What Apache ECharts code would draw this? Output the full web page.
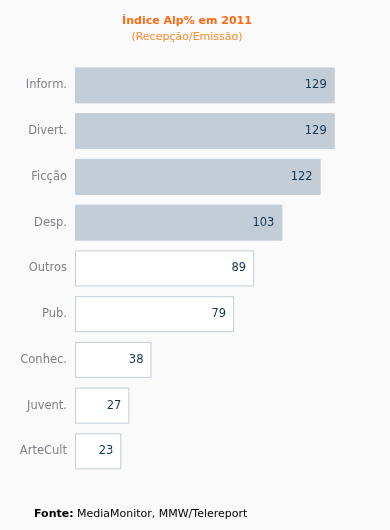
<!DOCTYPE html>
<html><head><meta charset="utf-8">
<script src="https://cdn.jsdelivr.net/npm/echarts@6/dist/echarts.min.js"></script>
<style>html,body{margin:0;padding:0;background:#fafafa}#c{width:390px;height:530px}</style>
</head><body><div id="c"></div>
<script>
const categories = ['Inform.', 'Divert.', 'Ficção', 'Desp.', 'Outros', 'Pub.', 'Conhec.', 'Juvent.', 'ArteCult'];
const values = [129, 129, 122, 103, 89, 79, 38, 27, 23];
const titleText = 'Índice Alp% em 2011';
const subtitleText = '(Recepção/Emissão)';
const sourceLabel = 'Fonte:';
const sourceText = 'MediaMonitor, MMW/Telereport';
const shadedCount = 4;

const font = 'DejaVu Sans';
const chart = echarts.init(document.getElementById('c'), null, {renderer: 'canvas'});
chart.setOption({
  backgroundColor: '#fafafa',
  animation: false,
  grid: {left: 75, top: 62.5, width: 302, height: 411.75},
  xAxis: {type: 'value', min: 0, max: 150, show: false},
  yAxis: {
    type: 'category', data: categories, inverse: true,
    axisLine: {show: false}, axisTick: {show: false},
    axisLabel: {color: '#857d88', fontFamily: font, fontSize: 11.5, margin: 8}
  },
  series: [{
    type: 'bar', data: values, barWidth: 36,
    itemStyle: {
      color: p => p.dataIndex < shadedCount ? '#c2cdd7' : '#ffffff',
      borderColor: '#c2cdd7', borderWidth: 1
    },
    label: {show: true, position: 'insideRight', distance: 8, color: '#153555', fontFamily: font, fontSize: 11.5}
  }],
  graphic: [
    {type: 'text', x: 187, y: 21, style: {text: titleText, fill: '#ff6a13', font: 'bold 11px "DejaVu Sans"', align: 'center', verticalAlign: 'middle'}},
    {type: 'text', x: 187, y: 37, style: {text: subtitleText, fill: '#ff8a2a', font: '11px "DejaVu Sans"', align: 'center', verticalAlign: 'middle'}},
    {type: 'text', x: 34, y: 514, style: {
      text: '{b|' + sourceLabel + '} {n|' + sourceText + '}', verticalAlign: 'middle',
      rich: {b: {font: 'bold 11px "DejaVu Sans"', fill: '#000'}, n: {font: '11px "DejaVu Sans"', fill: '#000'}}
    }}
  ]
});
</script></body></html>
